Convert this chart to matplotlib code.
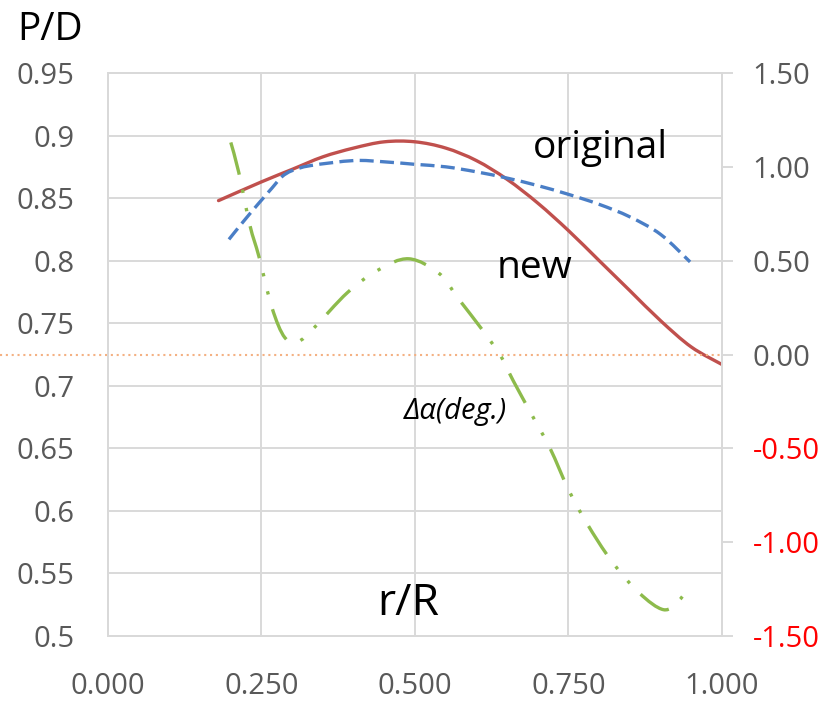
import matplotlib
matplotlib.use("Agg")
import matplotlib.pyplot as plt
from matplotlib.path import Path
from matplotlib.patches import PathPatch

plt.rcParams['font.family'] = ['Open Sans', 'DejaVu Sans']

# ---- data ----
x_ticks = [0.0, 0.25, 0.5, 0.75, 1.0]
x_tick_labels = ["0.000", "0.250", "0.500", "0.750", "1.000"]
left_ticks = [0.5, 0.55, 0.6, 0.65, 0.7, 0.75, 0.8, 0.85, 0.9, 0.95]
left_tick_labels = ["0.5", "0.55", "0.6", "0.65", "0.7", "0.75", "0.8", "0.85", "0.9", "0.95"]
right_ticks = [-1.5, -1.0, -0.5, 0.0, 0.5, 1.0, 1.5]
right_tick_labels = ["-1.50", "-1.00", "-0.50", "0.00", "0.50", "1.00", "1.50"]

r_new = [0.18, 0.25, 0.30, 0.35, 0.40, 0.45, 0.50, 0.55, 0.60, 0.65, 0.70,
         0.75, 0.80, 0.85, 0.90, 0.95, 1.00]
pd_new = [0.848, 0.863, 0.873, 0.883, 0.890, 0.895, 0.895, 0.890, 0.880, 0.865,
          0.846, 0.824, 0.800, 0.776, 0.752, 0.731, 0.717]

r_orig = [0.197, 0.22, 0.244, 0.267, 0.283, 0.30, 0.33, 0.40, 0.45, 0.50, 0.55,
          0.60, 0.65, 0.70, 0.75, 0.80, 0.85, 0.90, 0.948]
pd_orig = [0.817, 0.831, 0.845, 0.858, 0.867, 0.872, 0.876, 0.880, 0.879, 0.877,
           0.875, 0.871, 0.866, 0.860, 0.853, 0.845, 0.835, 0.821, 0.799]

r_alpha = [0.200, 0.213, 0.231, 0.246, 0.267, 0.288, 0.31, 0.335, 0.39, 0.44,
           0.49, 0.54, 0.57, 0.61, 0.64, 0.66, 0.69, 0.72, 0.75, 0.78, 0.82,
           0.865, 0.905, 0.93, 0.948]
d_alpha = [1.13, 0.97, 0.69, 0.52, 0.25, 0.09, 0.07, 0.14, 0.33, 0.45, 0.51,
           0.43, 0.30, 0.13, -0.01, -0.14, -0.32, -0.50, -0.72, -0.90, -1.10,
           -1.27, -1.36, -1.31, -1.23]


def smooth_path(xs, ys):
    """Smoothed line through the points (like a spreadsheet 'smoothed line'),
    drawn as cubic Bezier segments of a matplotlib Path."""
    pts = list(zip(xs, ys))
    n = len(pts)
    verts = [pts[0]]
    codes = [Path.MOVETO]
    for i in range(n - 1):
        p0 = pts[i - 1] if i > 0 else pts[i]
        p1 = pts[i]
        p2 = pts[i + 1]
        p3 = pts[i + 2] if i + 2 < n else pts[i + 1]
        c1 = (p1[0] + (p2[0] - p0[0]) / 6.0, p1[1] + (p2[1] - p0[1]) / 6.0)
        c2 = (p2[0] - (p3[0] - p1[0]) / 6.0, p2[1] - (p3[1] - p1[1]) / 6.0)
        verts += [c1, c2, p2]
        codes += [Path.CURVE4] * 3
    return Path(verts, codes)


# ---- figure ----
W, H = 829, 704
fig = plt.figure(figsize=(W / 100, H / 100), dpi=100)
L, R, T, B = 108, 722, 73, 636
ax = fig.add_axes([L / W, 1 - B / H, (R - L) / W, (B - T) / H])
ax2 = ax.twinx()

grid_c = '#D9D9D9'
label_c = '#595959'

ax.set_xlim(0, 1)
ax.set_ylim(0.5, 0.95)
ax2.set_ylim(-1.5, 1.5)

ax.set_xticks(x_ticks)
ax.set_xticklabels(x_tick_labels)
ax.set_yticks(left_ticks)
ax.set_yticklabels(left_tick_labels)
ax2.set_yticks(right_ticks)
ax2.set_yticklabels(right_tick_labels)

ax.grid(True, color=grid_c, linewidth=1.4)
ax.set_axisbelow(True)
for a in (ax, ax2):
    for s in a.spines.values():
        s.set_color(grid_c)
        s.set_linewidth(1.4)

ax.tick_params(axis='x', length=0, pad=26, labelsize=21, labelcolor=label_c)
ax.tick_params(axis='y', length=0, pad=24, labelsize=21, labelcolor=label_c)
ax2.tick_params(axis='y', direction='out', length=8, width=1.4, color=grid_c,
                pad=14, labelsize=21)
for lbl, v in zip(ax2.get_yticklabels(), right_ticks):
    lbl.set_color('#FF0000' if v < 0 else label_c)

# orange dotted zero line of the right axis
ax2.axhline(0.0, xmin=-L / (R - L), xmax=1.0, color='#F4B183', linewidth=1.5,
            linestyle=(0, (1, 1.8)), clip_on=False, zorder=1)

# curves (smoothed lines)
ax.add_patch(PathPatch(smooth_path(r_new, pd_new), fill=False, edgecolor='#C0504D',
                       linewidth=2.4, capstyle='round', zorder=3))
ax.add_patch(PathPatch(smooth_path(r_orig, pd_orig), fill=False, edgecolor='#4A7EC6',
                       linewidth=2.4, linestyle=(0, (4.2, 1.9)), zorder=3))
ax2.add_patch(PathPatch(smooth_path(r_alpha, d_alpha), fill=False, edgecolor='#8DBB4C',
                        linewidth=2.4, linestyle=(0, (10.0, 4.6, 1, 4.6, 1, 4.6)),
                        zorder=3))

# annotations
ax.text(600 / W, 1 - 148 / H, "original", transform=fig.transFigure,
        ha='center', va='center', fontsize=28, color='black')
ax.text(535 / W, 1 - 268 / H, "new", transform=fig.transFigure,
        ha='center', va='center', fontsize=28, color='black')
ax.text(455 / W, 1 - 412 / H, "Δα(deg.)", transform=fig.transFigure,
        ha='center', va='center', fontsize=21, style='italic', color='black')
ax.text(408 / W, 1 - 604 / H, "r/R", transform=fig.transFigure,
        ha='center', va='center', fontsize=32, color='black')
fig.text(50 / W, 1 - 30 / H, "P/D", ha='center', va='center', fontsize=28, color='black')

fig.savefig("out.png", dpi=100)
